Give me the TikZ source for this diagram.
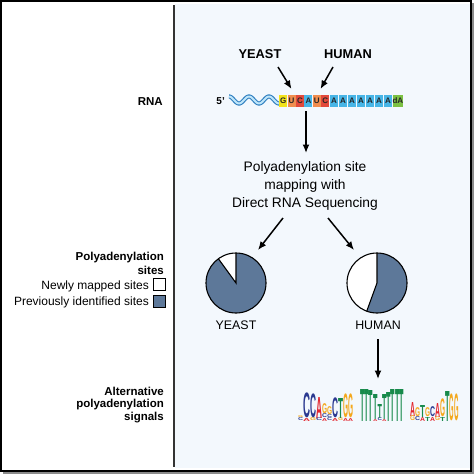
\documentclass[tikz,border=0pt]{standalone}
\usepackage{fontspec}
\usepackage{graphicx}
\setmainfont{Liberation Sans}
\usetikzlibrary{arrows.meta,calc}
\definecolor{panelblue}{HTML}{F3F8FD}
\definecolor{pieblue}{HTML}{5D7899}
\definecolor{lgblue}{HTML}{2B3990}
\definecolor{lgred}{HTML}{E3262E}
\definecolor{lgorange}{HTML}{F4A81D}
\definecolor{lggreen}{HTML}{178A4B}
\definecolor{bxyellow}{HTML}{F2E31B}
\definecolor{bxorange}{HTML}{F08D4F}
\definecolor{bxred}{HTML}{E2493B}
\definecolor{bxblue}{HTML}{47B5E6}
\definecolor{bxgreen}{HTML}{7CC143}
\definecolor{wavedark}{HTML}{2F7FC0}
\definecolor{wavelight}{HTML}{BFE6FA}
\newcommand{\lgstart}[1]{\gdef\lgy{#1}}
\newcommand{\lgput}[5]{%
  \node[anchor=south west,inner sep=0pt,outer sep=0pt,text=#5] at (#1,\lgy) {\resizebox*{#2pt}{#3pt}{\bfseries #4}};%
  \pgfmathsetmacro{\lgtmp}{\lgy-#3}\global\let\lgy\lgtmp}
\tikzset{
  lbl/.style={font=\fontsize{11.5}{13}\selectfont\bfseries, inner sep=0pt},
  lgd/.style={font=\fontsize{12}{14}\selectfont, inner sep=0pt},
  mid/.style={font=\fontsize{13.8}{16}\selectfont, inner sep=0pt},
  sp/.style={font=\fontsize{12.8}{15}\selectfont\bfseries, inner sep=0pt},
  pl/.style={font=\fontsize{12.4}{15}\selectfont, inner sep=0pt},
  arr/.style={line width=1.5pt, -{Latex[length=8.5pt,width=7pt]}},
  pie/.style={line width=1.1pt},
  bx/.style={inner sep=0pt, minimum height=12pt, font=\fontsize{8}{8}\selectfont\bfseries, text=black!85, anchor=west}
}
\begin{document}
\begin{tikzpicture}[x=1pt,y=-1pt]
\useasboundingbox (0,0) rectangle (474,474);
% frame
\fill[black!45] (3,3) rectangle (474,474);
\fill[white] (0,0) rectangle (471,471);
\fill[panelblue] (175,3.5) rectangle (469.5,467.5);
\draw[line width=2.2pt] (1.1,1.1) rectangle (470.9,470.9);
\draw[line width=1.3pt, black!80] (174,5) -- (174,467);

% left labels
\node[lbl, anchor=base east] (rnal) at (163,105) {RNA};
\node[lbl, anchor=base east] (pas1) at (164,260) {Polyadenylation};
\node[lbl, anchor=base east] (pas2) at (164,274) {sites};
\node[lgd, anchor=base east] (newl) at (149,289) {Newly mapped sites};
\node[lgd, anchor=base east] (prevl) at (149,305) {Previously identified sites};
\node[draw, line width=0.9pt, fill=white, minimum size=11.5pt, inner sep=0pt, anchor=west] (newsq) at (153,284.5) {};
\node[draw, line width=0.9pt, fill=pieblue, minimum size=11.5pt, inner sep=0pt, anchor=west] (prevsq) at (153,301.5) {};
\node[lbl, anchor=base east] (alt1) at (164,395) {Alternative};
\node[lbl, anchor=base east] (alt2) at (164,407.5) {polyadenylation};
\node[lbl, anchor=base east] (alt3) at (164,420) {signals};

% species on top
\node[sp, anchor=base] (yeastt) at (260,58) {YEAST};
\node[sp, anchor=base] (humant) at (348,58) {HUMAN};
\coordinate (ya0) at (278,67); \coordinate (ya1) at (291.5,89);
\coordinate (ha0) at (333,67); \coordinate (ha1) at (320.5,89);
\draw[arr] (ya0) -- (ya1);
\draw[arr] (ha0) -- (ha1);

% RNA
\node[font=\fontsize{10}{12}\selectfont\bfseries, inner sep=0pt, anchor=base east] (fivep) at (225,104) {5’};
\draw[wavedark, line width=4.2pt] plot[domain=229:279, samples=100] (\x,{100-3.5*sin(18*(\x-229)+90)});
\draw[wavelight, line width=2pt] plot[domain=229:279, samples=100] (\x,{100-3.5*sin(18*(\x-229)+90)});
\node[bx, fill=bxyellow, minimum width=8pt] (b1) at (279,100.5) {G};
\node[bx, fill=bxorange, minimum width=8pt] (b2) at (b1.east) {U};
\node[bx, fill=bxred, minimum width=8pt] (b3) at (b2.east) {C};
\node[bx, fill=bxblue, minimum width=8pt] (b4) at (b3.east) {A};
\node[bx, fill=bxorange, minimum width=8pt] (b5) at (b4.east) {U};
\node[bx, fill=bxred, minimum width=8pt] (b6) at (b5.east) {C};
\node[bx, fill=bxblue, minimum width=8.6pt] (b7) at (b6.east) {A};
\node[bx, fill=bxblue, minimum width=8.6pt] (b8) at (b7.east) {A};
\node[bx, fill=bxblue, minimum width=8.6pt] (b9) at (b8.east) {A};
\node[bx, fill=bxblue, minimum width=8.6pt] (b10) at (b9.east) {A};
\node[bx, fill=bxblue, minimum width=8.6pt] (b11) at (b10.east) {A};
\node[bx, fill=bxblue, minimum width=8.6pt] (b12) at (b11.east) {A};
\node[bx, fill=bxblue, minimum width=8.6pt] (b13) at (b12.east) {A};
\node[bx, fill=bxgreen, minimum width=10.3pt] (b14) at (b13.east) {dA};

\coordinate (ra0) at (306,111); \coordinate (ra1) at (306,153);
\draw[arr] (ra0) -- (ra1);

\node[mid, anchor=base] (m1) at (305,171) {Polyadenylation site};
\node[mid, anchor=base] (m2) at (305,189) {mapping with};
\node[mid, anchor=base] (m3) at (305,207) {Direct RNA Sequencing};

\coordinate (la0) at (283,218); \coordinate (la1) at (258,250);
\coordinate (rb0) at (328,218); \coordinate (rb1) at (354,250);
\draw[arr] (la0) -- (la1);
\draw[arr] (rb0) -- (rb1);

% pies
\coordinate (yc) at (236,283);
\coordinate (hc) at (377,283);
\fill[pieblue] (yc) -- ++(-90:30) arc[start angle=-90, end angle=234, radius=30] -- cycle;
\fill[white] (yc) -- ++(234:30) arc[start angle=234, end angle=270, radius=30] -- cycle;
\draw[pie] (yc) circle[radius=30];
\draw[pie] ($(yc)+(-90:30)$) -- (yc) -- ++(234:30);
\fill[pieblue] (hc) -- ++(-90:30) arc[start angle=-90, end angle=110, radius=30] -- cycle;
\fill[white] (hc) -- ++(110:30) arc[start angle=110, end angle=270, radius=30] -- cycle;
\draw[pie] (hc) circle[radius=30];
\draw[pie] ($(hc)+(-90:30)$) -- (hc) -- ++(110:30);

\node[pl, anchor=base] (yl) at (236,329) {YEAST};
\node[pl, anchor=base] (hl) at (378,329) {HUMAN};
\coordinate (da0) at (378,339); \coordinate (da1) at (378,379);
\draw[arr] (da0) -- (da1);

% logo 1
\lgstart{421}\lgput{298}{5}{3}{C}{lgblue}\lgput{298}{5}{2}{G}{lgorange}
\lgstart{421}\lgput{303}{7}{3}{A}{lgred}\lgput{303}{7}{25}{C}{lgblue}
\lgstart{421}\lgput{310}{6}{3}{G}{lgorange}\lgput{310}{6}{24}{C}{lgblue}
\lgstart{421}\lgput{316}{6}{3}{C}{lgblue}\lgput{316}{6}{21}{A}{lgred}
\lgstart{421}\lgput{322}{5}{3}{A}{lgred}\lgput{322}{5}{4}{C}{lgblue}\lgput{322}{5}{10}{G}{lgorange}
\lgstart{421}\lgput{327}{5}{3}{C}{lgblue}\lgput{327}{5}{3}{C}{lgblue}\lgput{327}{5}{8}{G}{lgorange}
\lgstart{421}\lgput{332}{6}{3}{A}{lgred}\lgput{332}{6}{20}{C}{lgblue}
\lgstart{421}\lgput{338}{5}{3}{G}{lgorange}\lgput{338}{5}{20}{T}{lggreen}
\lgstart{421}\lgput{343}{5}{3}{A}{lgred}\lgput{343}{5}{24}{G}{lgorange}
\lgstart{421}\lgput{348}{5}{3}{A}{lgred}\lgput{348}{5}{24}{G}{lgorange}

% logo 2
\lgstart{421}\lgput{360}{4.4}{32}{T}{lggreen}
\lgstart{421}\lgput{364.4}{4.4}{32}{T}{lggreen}
\lgstart{421}\lgput{368.8}{4.4}{31}{T}{lggreen}
\lgstart{421}\lgput{373.2}{4.4}{2}{A}{lgred}\lgput{373.2}{4.4}{25}{T}{lggreen}
\lgstart{421}\lgput{377.6}{4.4}{3}{C}{lgblue}\lgput{377.6}{4.4}{14}{T}{lggreen}
\lgstart{421}\lgput{382}{4.4}{2}{A}{lgred}\lgput{382}{4.4}{25}{T}{lggreen}
\lgstart{421}\lgput{386.4}{4.4}{29}{T}{lggreen}
\lgstart{421}\lgput{390.8}{4.4}{32}{T}{lggreen}
\lgstart{421}\lgput{395.2}{4.4}{32}{T}{lggreen}
\lgstart{421}\lgput{399.6}{4.4}{32}{T}{lggreen}

% logo 3
\lgstart{421}\lgput{410}{5}{5}{G}{lgorange}\lgput{410}{5}{14}{A}{lgred}
\lgstart{421}\lgput{415}{5}{4}{C}{lgblue}\lgput{415}{5}{9}{G}{lgorange}
\lgstart{421}\lgput{420}{5}{4}{A}{lgred}\lgput{420}{5}{12}{T}{lggreen}
\lgstart{421}\lgput{425}{5}{4}{T}{lggreen}\lgput{425}{5}{9}{G}{lgorange}
\lgstart{421}\lgput{430}{5}{4}{A}{lgred}\lgput{430}{5}{10}{C}{lgblue}
\lgstart{421}\lgput{435}{5}{4}{G}{lgorange}\lgput{435}{5}{14}{A}{lgred}
\lgstart{421}\lgput{440}{5}{4}{T}{lggreen}\lgput{440}{5}{18}{G}{lgorange}
\lgstart{421}\lgput{445}{4.5}{30}{T}{lggreen}
\lgstart{421}\lgput{449.5}{4.5}{27}{G}{lgorange}
\lgstart{421}\lgput{454}{4.5}{27}{G}{lgorange}
\end{tikzpicture}
\end{document}
